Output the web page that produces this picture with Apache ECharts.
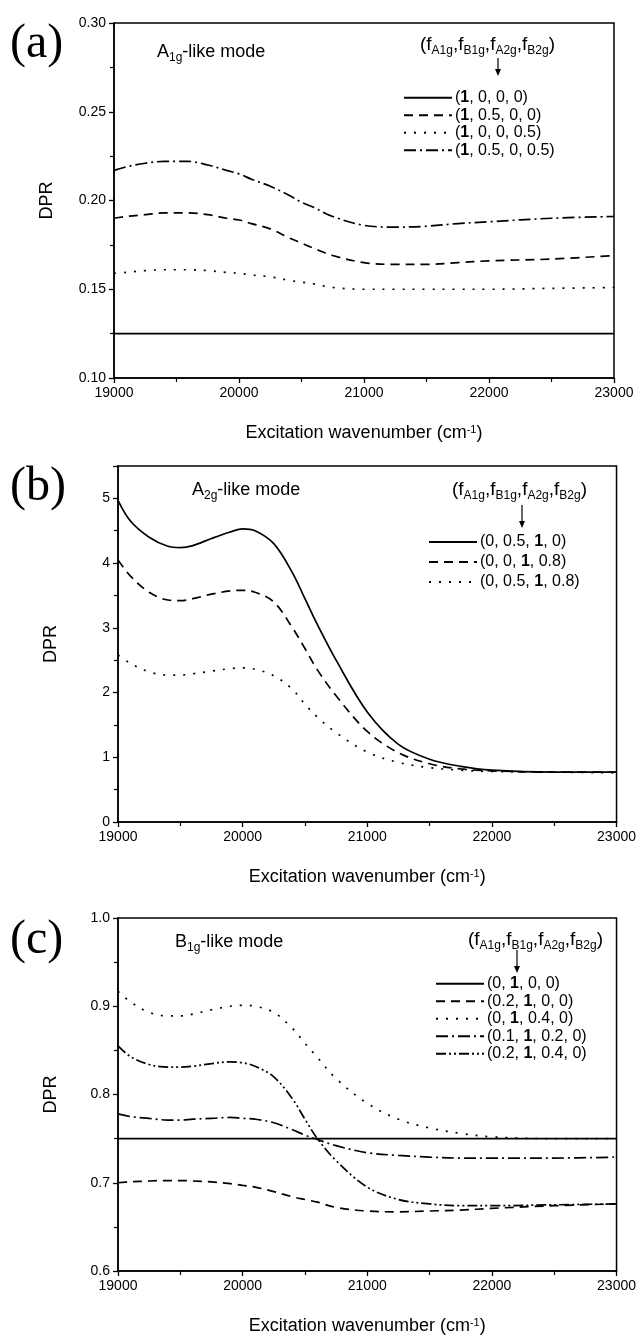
<!DOCTYPE html>
<html>
<head>
<meta charset="utf-8">
<script src="https://cdn.jsdelivr.net/npm/echarts@6/dist/echarts.min.js"></script>
<style>
html,body{margin:0;padding:0;background:#fff;}
#chart{width:639px;height:1336px;}
</style>
</head>
<body>
<div id="chart"></div>
<script>
// ---------------- data ----------------
const xs = [19000,19100,19250,19400,19500,19600,19750,19900,20000,20100,20250,20400,20500,20600,20750,21000,21250,21500,21750,22000,22500,23000];

// Panel (a) A1g-like mode
const namesA = ['(1, 0, 0, 0)','(1, 0.5, 0, 0)','(1, 0, 0, 0.5)','(1, 0.5, 0, 0.5)'];
const a1 = [0.125,0.125,0.125,0.125,0.125,0.125,0.125,0.125,0.125,0.125,0.125,0.125,0.125,0.125,0.125,0.125,0.125,0.125,0.125,0.125,0.125,0.125];
const a2 = [0.190,0.191,0.192,0.193,0.193,0.193,0.192,0.190,0.189,0.187,0.184,0.179,0.176,0.173,0.169,0.165,0.164,0.164,0.165,0.166,0.167,0.169];
const a3 = [0.159,0.1595,0.1605,0.161,0.161,0.161,0.1605,0.1595,0.159,0.158,0.157,0.155,0.154,0.153,0.151,0.150,0.150,0.150,0.150,0.150,0.1505,0.151];
const a4 = [0.217,0.219,0.221,0.222,0.222,0.222,0.220,0.217,0.215,0.212,0.208,0.203,0.199,0.196,0.191,0.186,0.185,0.1855,0.187,0.188,0.190,0.191];

// Panel (b) A2g-like mode
const namesB = ['(0, 0.5, 1, 0)','(0, 0, 1, 0.8)','(0, 0.5, 1, 0.8)'];
const b1 = [4.97,4.65,4.40,4.26,4.24,4.27,4.38,4.48,4.53,4.50,4.30,3.85,3.45,3.05,2.50,1.70,1.20,0.97,0.86,0.80,0.77,0.77];
const b2 = [4.05,3.80,3.55,3.43,3.42,3.45,3.52,3.57,3.58,3.55,3.40,3.00,2.68,2.35,1.95,1.40,1.07,0.90,0.82,0.79,0.77,0.77];
const b3 = [2.58,2.45,2.32,2.27,2.27,2.29,2.33,2.37,2.38,2.36,2.26,2.05,1.82,1.62,1.38,1.08,0.92,0.84,0.80,0.78,0.77,0.76];

// Panel (c) B1g-like mode
const namesC = ['(0, 1, 0, 0)','(0.2, 1, 0, 0)','(0, 1, 0.4, 0)','(0.1, 1, 0.2, 0)','(0.2, 1, 0.4, 0)'];
const c1 = [0.75,0.75,0.75,0.75,0.75,0.75,0.75,0.75,0.75,0.75,0.75,0.75,0.75,0.75,0.75,0.75,0.75,0.75,0.75,0.75,0.75,0.75];
const c2 = [0.700,0.701,0.702,0.7025,0.7025,0.702,0.701,0.699,0.697,0.695,0.690,0.684,0.681,0.678,0.672,0.668,0.667,0.668,0.669,0.671,0.674,0.676];
const c3 = [0.917,0.905,0.893,0.889,0.889,0.891,0.896,0.900,0.901,0.900,0.893,0.875,0.858,0.842,0.818,0.790,0.772,0.762,0.756,0.752,0.750,0.750];
const c4 = [0.778,0.775,0.773,0.771,0.771,0.772,0.773,0.774,0.773,0.772,0.768,0.760,0.754,0.749,0.742,0.734,0.731,0.729,0.728,0.728,0.728,0.729];
const c5 = [0.855,0.843,0.834,0.831,0.831,0.832,0.835,0.837,0.836,0.832,0.820,0.795,0.772,0.750,0.725,0.695,0.681,0.676,0.674,0.674,0.675,0.676];

const xTicks = {min:19000, max:23000, interval:1000};
const yA = {min:0.10, max:0.30, interval:0.05};
const yB = {min:0, max:5.5, interval:1};
const yC = {min:0.6, max:1.0, interval:0.1};

// ---------------- styles ----------------
const FONT = '"Liberation Sans", Arial, sans-serif';
const SERIF = '"Liberation Serif", "Times New Roman", serif';
const DASH = {
  solid: 'solid',
  dash: [9, 6],
  dot: [2, 8],
  dashdot: [12, 4, 2, 4],
  dashdotdot: [10, 3, 2, 3, 2, 3]
};
const styleOrder = {
  A: ['solid','dash','dot','dashdot'],
  B: ['solid','dash','dot'],
  C: ['solid','dash','dot','dashdot','dashdotdot']
};

const grids = [
  {left:114, top:23, width:500, height:355},
  {left:118, top:466, width:500, height:356},
  {left:118, top:918, width:500, height:356}
];

function xAxisFor(i){
  return {
    gridIndex:i, type:'value', min:xTicks.min, max:xTicks.max, interval:xTicks.interval,
    name:'Excitation wavenumber (cm{sup|-1})', nameLocation:'middle', nameGap:46,
    nameTextStyle:{color:'#000', fontFamily:FONT, fontSize:18,
      rich:{sup:{fontSize:11, fontFamily:FONT, color:'#000', verticalAlign:'top', lineHeight:8}}},
    axisLine:{show:true, onZero:false, lineStyle:{color:'#000', width:1.5}},
    axisTick:{show:true, inside:false, length:5, lineStyle:{color:'#000', width:1.3}},
    minorTick:{show:true, splitNumber:2, length:4, lineStyle:{color:'#000', width:1.2}},
    axisLabel:{color:'#000', fontFamily:FONT, fontSize:14, margin:8, formatter: v => String(v)},
    splitLine:{show:false}
  };
}
function yAxisFor(i, cfg, fmt){
  return {
    gridIndex:i, type:'value', min:cfg.min, max:cfg.max, interval:cfg.interval,
    name:'DPR', nameLocation:'middle', nameGap:58,
    nameTextStyle:{color:'#000', fontFamily:FONT, fontSize:18},
    axisLine:{show:true, onZero:false, lineStyle:{color:'#000', width:1.5}},
    axisTick:{show:true, inside:false, length:5, lineStyle:{color:'#000', width:1.3}},
    minorTick:{show:true, splitNumber:2, length:4, lineStyle:{color:'#000', width:1.2}},
    axisLabel:{color:'#000', fontFamily:FONT, fontSize:14, margin:8, formatter:fmt},
    splitLine:{show:false}
  };
}

function mkSeries(name, vals, gi, style){
  return {
    name:name, type:'line', xAxisIndex:gi, yAxisIndex:gi,
    data: xs.map((x,k)=>[x, vals[k]]),
    smooth:0.35, symbol:'none', silent:true, animation:false,
    lineStyle:{color:'#000', width:1.7, type:DASH[style]},
    itemStyle:{color:'#000'}
  };
}

const series = [];
[a1,a2,a3,a4].forEach((v,k)=>series.push(mkSeries(namesA[k], v, 0, styleOrder.A[k])));
[b1,b2,b3].forEach((v,k)=>series.push(mkSeries(namesB[k], v, 1, styleOrder.B[k])));
[c1,c2,c3,c4,c5].forEach((v,k)=>series.push(mkSeries(namesC[k], v, 2, styleOrder.C[k])));

function boldOne(name){
  const inner = name.slice(1,-1).split(', ').map(p => p === '1' ? '{b|1}' : p).join(', ');
  return '(' + inner + ')';
}
function mkLegend(names, left, top, lh){
  return {
    data:names, orient:'vertical', left:left, top:top,
    itemWidth:48, itemHeight:12, itemGap:0, selectedMode:false,
    itemStyle:{opacity:0, borderWidth:0},
    formatter: boldOne,
    textStyle:{color:'#000', fontFamily:FONT, fontSize:16, lineHeight:lh, padding:[0,0,0,-2],
      rich:{b:{fontWeight:'bold', fontFamily:FONT, fontSize:16, lineHeight:lh, color:'#000'}}}
  };
}

const subRich = {
  s:{fontSize:12, fontFamily:FONT, color:'#000', verticalAlign:'bottom', lineHeight:10},
  m:{fontSize:19, fontFamily:FONT, color:'#000', lineHeight:24}
};
const modeRich = {
  s:{fontSize:12, fontFamily:FONT, color:'#000', verticalAlign:'bottom', lineHeight:10},
  m:{fontSize:18, fontFamily:FONT, color:'#000', lineHeight:24}
};
const headerText = '{m|(f}{s|A1g}{m|,f}{s|B1g}{m|,f}{s|A2g}{m|,f}{s|B2g}{m|)}';

function txt(x, y, text, opts){
  return Object.assign({type:'text', x:x, y:y, silent:true,
    style:Object.assign({text:text, fill:'#000', font:'18px '+FONT, textVerticalAlign:'middle'}, opts||{})});
}
function arrow(x, y1, y2){
  return {type:'group', silent:true, children:[
    {type:'line', shape:{x1:x, y1:y1, x2:x, y2:y2-5}, style:{stroke:'#000', lineWidth:1.2}},
    {type:'polygon', shape:{points:[[x-3,y2-7],[x+3,y2-7],[x,y2]]}, style:{fill:'#000'}}
  ]};
}

const graphic = [
  txt(10, 44, '(a)', {font:'48px '+SERIF}),
  txt(10, 487, '(b)', {font:'48px '+SERIF}),
  txt(10, 940, '(c)', {font:'48px '+SERIF}),
  txt(157, 52, '{m|A}{s|1g}{m|-like mode}', {rich:modeRich}),
  txt(192, 490, '{m|A}{s|2g}{m|-like mode}', {rich:modeRich}),
  txt(175, 942, '{m|B}{s|1g}{m|-like mode}', {rich:modeRich}),
  txt(420, 45, headerText, {rich:subRich}),
  txt(452, 490, headerText, {rich:subRich}),
  txt(468, 940, headerText, {rich:subRich}),
  arrow(498, 58, 76),
  arrow(522, 505, 528),
  arrow(517, 950, 973)
];

const option = {
  backgroundColor:'#fff',
  animation:false,
  grid: grids.map(g => Object.assign({show:true, borderColor:'#000', borderWidth:1.5, containLabel:false}, g)),
  xAxis:[xAxisFor(0), xAxisFor(1), xAxisFor(2)],
  yAxis:[
    yAxisFor(0, yA, v => v.toFixed(2)),
    yAxisFor(1, yB, v => Number.isInteger(Math.round(v*1000)/1000) ? String(Math.round(v)) : ''),
    yAxisFor(2, yC, v => v.toFixed(1))
  ],
  legend:[
    mkLegend(namesA, 398, 84, 17.5),
    mkLegend(namesB, 423, 527, 20),
    mkLegend(namesC, 430, 970, 17.5)
  ],
  graphic: graphic,
  series: series
};

const chart = echarts.init(document.getElementById('chart'), null, {renderer:'canvas'});
chart.setOption(option);
</script>
</body>
</html>
